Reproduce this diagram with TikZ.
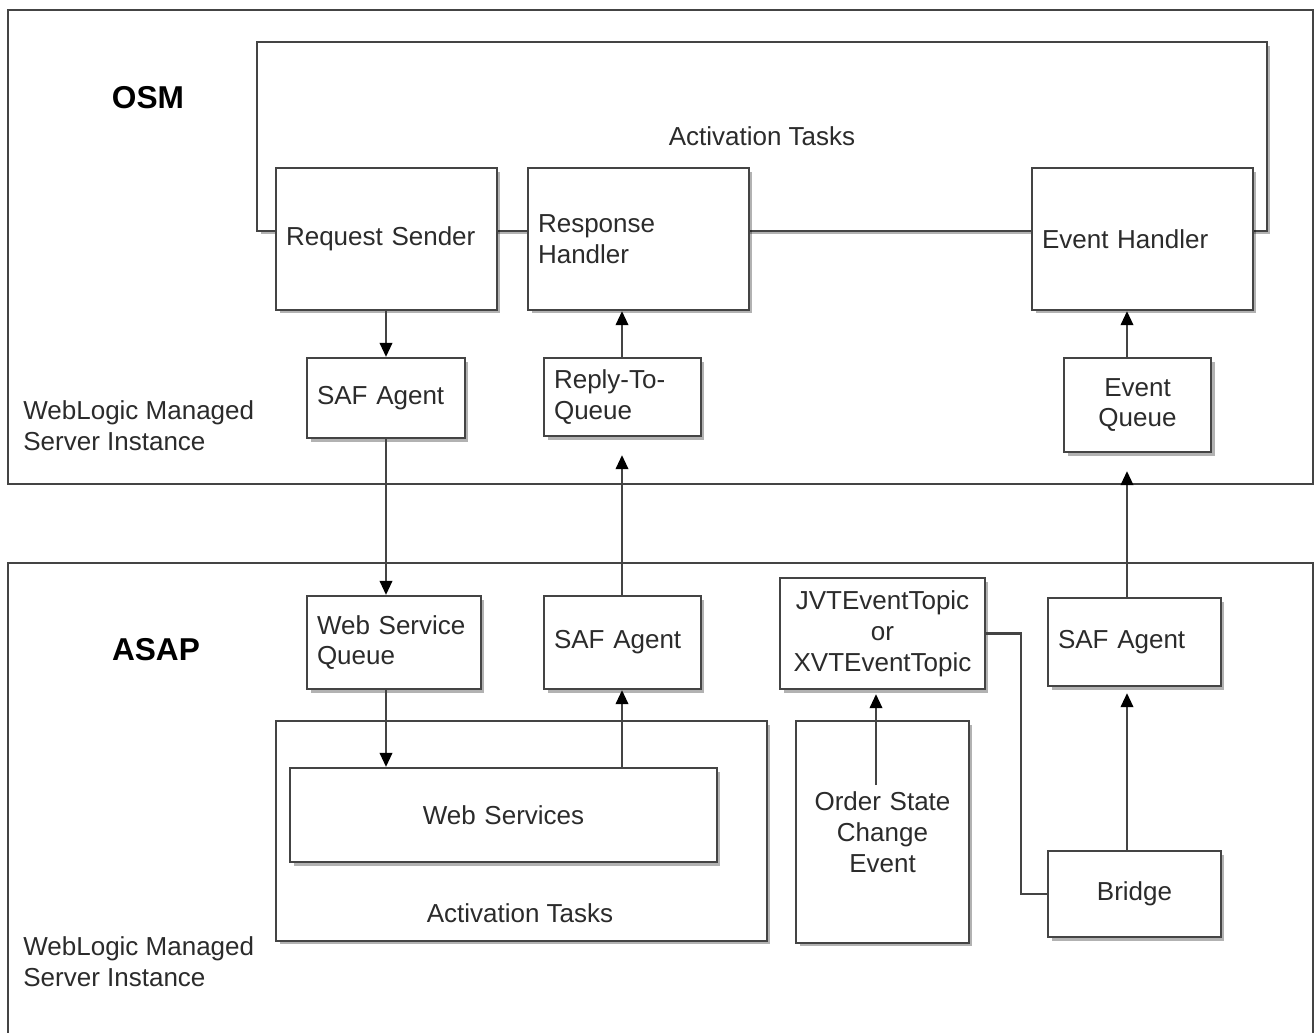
\documentclass[tikz,border=0pt]{standalone}
\usepackage{fontspec}
\setmainfont{Liberation Sans}
\usetikzlibrary{arrows.meta,shadows,calc}
\definecolor{ln}{HTML}{444444}
\definecolor{tx}{HTML}{2B2B2B}
\begin{document}
\begin{tikzpicture}[x=0.02cm,y=-0.02cm,
  font=\fontsize{14.8}{17.6}\selectfont, text=tx,
  shad/.style={drop shadow={shadow xshift=0.07cm,shadow yshift=-0.07cm,opacity=0.3,fill=black}},
  box/.style={draw=ln,line width=1.3pt,fill=white,shad,inner sep=0pt,inner xsep=0.2cm},
  frame/.style={draw=ln,line width=1.3pt,fill=white,inner sep=0pt},
  title/.style={font=\fontsize{18}{21}\selectfont\bfseries,text=black},
  arr/.style={draw=ln,line width=1.2pt,-{Triangle[length=0.28cm,width=0.25cm,color=black]}},
  conn/.style={draw=ln,line width=1.2pt}]
\useasboundingbox (0,0) rectangle (1315,1032);
\clip (0,0) rectangle (1315,1032);
% frames
\node[frame, minimum width=26.1cm, minimum height=9.48cm] (osm) at (660.5,247) {};
\node[frame, minimum width=26.1cm, minimum height=9.64cm] (asap) at (660.5,804) {};
\node[title] (osml) at (148,98) {OSM};
\node[title] (asapl) at (156,650) {ASAP};
\node[anchor=west, align=left, inner sep=0pt] (wl1) at (23,425.5) {WebLogic Managed\\Server Instance};
\node[anchor=west, align=left, inner sep=0pt] (wl2) at (23,961.5) {WebLogic Managed\\Server Instance};
% OSM
\node[box, minimum width=20.2cm, minimum height=3.78cm] (at1) at (762,136.5) {Activation Tasks};
\node[box, text width=4.02cm, minimum height=2.84cm, align=left] (rs) at (386.5,239) {Request Sender};
\node[box, text width=4.02cm, minimum height=2.84cm, align=left] (rh) at (638.5,239) {Response\\Handler};
\node[box, text width=4.02cm, minimum height=2.84cm, align=left] (eh) at (1142.5,239) {Event Handler};
\node[box, text width=2.76cm, minimum height=1.6cm, align=left] (saf1) at (386,398) {SAF Agent};
\node[box, text width=2.74cm, minimum height=1.56cm, align=left] (rtq) at (622.5,397) {Reply-To-\\Queue};
\node[box, text width=2.54cm, minimum height=1.88cm, align=center] (eq) at (1137.5,405) {Event\\Queue};
% ASAP
\node[box, text width=3.08cm, minimum height=1.86cm, align=left] (wsq) at (394,642.5) {Web Service\\Queue};
\node[box, text width=2.74cm, minimum height=1.86cm, align=left] (saf2) at (622.5,642.5) {SAF Agent};
\node[box, text width=3.7cm, minimum height=2.22cm, align=center] (jvt) at (882.5,633.5) {JVTEventTopic\\or\\XVTEventTopic};
\node[box, text width=3.06cm, minimum height=1.76cm, align=left] (saf3) at (1134.5,642) {SAF Agent};
\node[box, minimum width=9.82cm, minimum height=4.4cm] (at2) at (521.5,831) {};
\node[inner sep=0pt] (at2l) at (520,913) {Activation Tasks};
\node[box, text width=8.14cm, minimum height=1.88cm, align=center] (ws) at (503.5,815) {Web Services};
\node[box, text width=3.06cm, minimum height=4.44cm, align=center] (ose) at (882.5,832) {Order State\\Change\\Event};
\node[box, text width=3.06cm, minimum height=1.72cm, align=center] (br) at (1134.5,894) {Bridge};
% columns
\coordinate (cA) at (386,0);
\coordinate (cB) at (622,0);
\coordinate (cC) at (876,0);
\coordinate (cR) at (1127,0);
\coordinate (oseTop) at (876,785);
% connectors
\draw[arr] (rs.south -| cA) -- (saf1.north -| cA);
\draw[arr] (rtq.north -| cB) -- (rh.south -| cB);
\draw[arr] (eq.north -| cR) -- (eh.south -| cR);
\draw[arr] (saf1.south -| cA) -- (wsq.north -| cA);
\draw[arr, shorten >=0.36cm] (saf2.north -| cB) -- (rtq.south -| cB);
\draw[arr, shorten >=0.36cm] (saf3.north -| cR) -- (eq.south -| cR);
\draw[arr] (wsq.south -| cA) -- (ws.north -| cA);
\draw[arr] (ws.north -| cB) -- (saf2.south -| cB);
\draw[arr, shorten >=0.08cm] (oseTop) -- (jvt.south -| cC);
\draw[arr, shorten >=0.12cm] (br.north -| cR) -- (saf3.south -| cR);
\draw[conn] (jvt.east) -- ++(35,0) |- (br.west);
\end{tikzpicture}
\end{document}
